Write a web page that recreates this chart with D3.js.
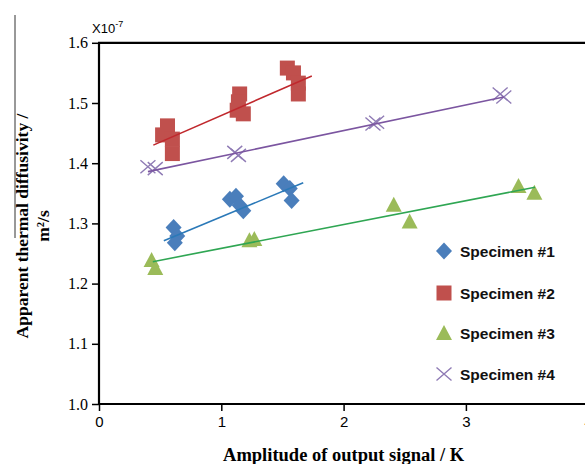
<!DOCTYPE html>
<html>
<head>
<meta charset="utf-8">
<script src="https://cdn.jsdelivr.net/npm/d3@7"></script>
<style>
  body { margin: 0; background: #fff; }
  svg { display: block; }
</style>
</head>
<body>
<svg id="chart"></svg>
<script>
var width = 585;
var height = 464;

// specimen measurements (x: amplitude / K, y: diffusivity x1e-7 m2/s)
var s1x = [0.61, 0.64, 0.62, 1.07, 1.12, 1.15, 1.18, 1.51, 1.56, 1.575];
var s1y = [1.293, 1.279, 1.268, 1.340, 1.345, 1.330, 1.321, 1.366, 1.358, 1.338];
var s2x = [0.52, 0.56, 0.60, 0.60, 1.13, 1.15, 1.14, 1.18, 1.54, 1.59, 1.63, 1.63];
var s2y = [1.447, 1.462, 1.440, 1.416, 1.488, 1.515, 1.502, 1.482, 1.558, 1.550, 1.533, 1.515];
var s3x = [0.43, 0.46, 1.23, 1.27, 2.41, 2.54, 3.43, 3.56];
var s3y = [1.239, 1.226, 1.272, 1.274, 1.331, 1.303, 1.362, 1.351];
var s4x = [0.40, 0.46, 1.11, 1.14, 2.24, 2.27, 3.28, 3.31];
var s4y = [1.394, 1.391, 1.418, 1.413, 1.465, 1.468, 1.515, 1.510];

// trend line end points [x0, y0, x1, y1]
var fit1 = [0.53, 1.271, 1.67, 1.3676];
var fit2 = [0.444, 1.430, 1.74, 1.545];
var fit3 = [0.44, 1.2364, 3.565, 1.360];
var fit4 = [0.40, 1.386, 3.31, 1.510];

var names = ['Specimen #1', 'Specimen #2', 'Specimen #3', 'Specimen #4'];
var xTicks = [0, 1, 2, 3, 4];
var yTicks = [1.0, 1.1, 1.2, 1.3, 1.4, 1.5, 1.6];

var markColors = ['#4a7ebb', '#c0504d', '#9bbb59', '#8f7bb5'];
var lineColors = ['#2b79b8', '#c0282d', '#2fa653', '#7b55a0'];

var svg = d3.select('#chart')
  .attr('width', width)
  .attr('height', height);

var x = d3.scaleLinear().domain([0, 4]).range([99, 588.2]);
var y = d3.scaleLinear().domain([1.0, 1.6]).range([404, 42.8]);

// marker shapes
function diamond(g, col) {
  g.append('path').attr('d', 'M0,-8.5L8,0L0,8.5L-8,0Z').attr('fill', col);
}
function square(g, col) {
  g.append('rect').attr('x', -7.5).attr('y', -7.5).attr('width', 15).attr('height', 15).attr('fill', col);
}
function triangle(g, col) {
  g.append('path').attr('d', 'M0,-8L8,7L-8,7Z').attr('fill', col);
}
function cross(g, col) {
  g.append('path').attr('d', 'M-7.5,-6.5L7.5,6.5M-7.5,6.5L7.5,-6.5')
    .attr('stroke', col).attr('stroke-width', 1.4).attr('fill', 'none');
}
var shapes = [diamond, square, triangle, cross];

var series = [
  {xs: s1x, ys: s1y, fit: fit1},
  {xs: s2x, ys: s2y, fit: fit2},
  {xs: s3x, ys: s3y, fit: fit3},
  {xs: s4x, ys: s4y, fit: fit4}
];

var plot = svg.append('g');

series.forEach(function(s, i) {
  s.xs.forEach(function(v, j) {
    var g = plot.append('g').attr('transform', 'translate(' + x(v) + ',' + y(s.ys[j]) + ')');
    shapes[i](g, markColors[i]);
  });
});

series.forEach(function(s, i) {
  plot.append('line')
    .attr('x1', x(s.fit[0])).attr('y1', y(s.fit[1]))
    .attr('x2', x(s.fit[2])).attr('y2', y(s.fit[3]))
    .attr('stroke', lineColors[i])
    .attr('stroke-width', 1.6);
});

// axes
var xAxis = d3.axisBottom(x).tickValues(xTicks).tickSize(7).tickFormat(d3.format('d'));
var gx = svg.append('g').attr('transform', 'translate(0,404)').call(xAxis);
gx.select('.domain').remove();
gx.selectAll('.tick line').attr('stroke', '#000').attr('stroke-width', 1.5);
gx.selectAll('.tick text')
  .attr('y', 12)
  .attr('font-family', 'Liberation Sans, Arial, sans-serif')
  .attr('font-size', 15)
  .attr('fill', '#000');

var yAxis = d3.axisLeft(y).tickValues(yTicks).tickSize(7).tickFormat(d3.format('.1f'));
var gy = svg.append('g').attr('transform', 'translate(99,0)').call(yAxis);
gy.select('.domain').remove();
gy.selectAll('.tick line').attr('stroke', '#000').attr('stroke-width', 1.5);
gy.selectAll('.tick text')
  .attr('x', -11)
  .attr('font-family', 'Liberation Serif, Times New Roman, serif')
  .attr('font-size', 16)
  .attr('fill', '#000');

svg.append('path')
  .attr('d', 'M99,' + y(1.6) + 'L99,404L' + width + ',404')
  .attr('stroke', '#000').attr('stroke-width', 2.2).attr('fill', 'none');
svg.append('line')
  .attr('x1', 98).attr('x2', width).attr('y1', y(1.6)).attr('y2', y(1.6))
  .attr('stroke', '#000').attr('stroke-width', 2.2);

// scale factor
var sf = svg.append('text')
  .attr('x', 92).attr('y', 33)
  .attr('font-family', 'Liberation Sans, Arial, sans-serif')
  .attr('font-size', 13)
  .attr('fill', '#000');
sf.append('tspan').text('X10');
sf.append('tspan').attr('dy', -6).attr('font-size', 9).text('-7');

// axis titles
svg.append('text')
  .attr('x', x(2)).attr('y', 461)
  .attr('text-anchor', 'middle')
  .attr('font-family', 'Liberation Serif, Times New Roman, serif')
  .attr('font-weight', 'bold')
  .attr('font-size', 18.5)
  .text('Amplitude of output signal / K');

var yt = svg.append('text')
  .attr('transform', 'translate(0,226) rotate(-90)')
  .attr('text-anchor', 'middle')
  .attr('font-family', 'Liberation Serif, Times New Roman, serif')
  .attr('font-weight', 'bold')
  .attr('font-size', 17.5);
yt.append('tspan').attr('x', 0).attr('y', 28).text('Apparent thermal diffusivity /');
yt.append('tspan').attr('x', 0).attr('y', 49).text('m²/s');

svg.append('line')
  .attr('x1', 15).attr('x2', 15).attr('y1', 15).attr('y2', 238)
  .attr('stroke', '#333').attr('stroke-width', 1);

// legend
var legendY = [251, 293, 333, 374];
names.forEach(function(n, i) {
  var g = svg.append('g').attr('transform', 'translate(444,' + legendY[i] + ')');
  shapes[i](g, markColors[i]);
  svg.append('text')
    .attr('x', 460).attr('y', legendY[i] + 6)
    .attr('font-family', 'Liberation Sans, Arial, sans-serif')
    .attr('font-weight', 'bold')
    .attr('font-size', 15.5)
    .attr('fill', '#111')
    .text(n);
});
</script>
</body>
</html>
